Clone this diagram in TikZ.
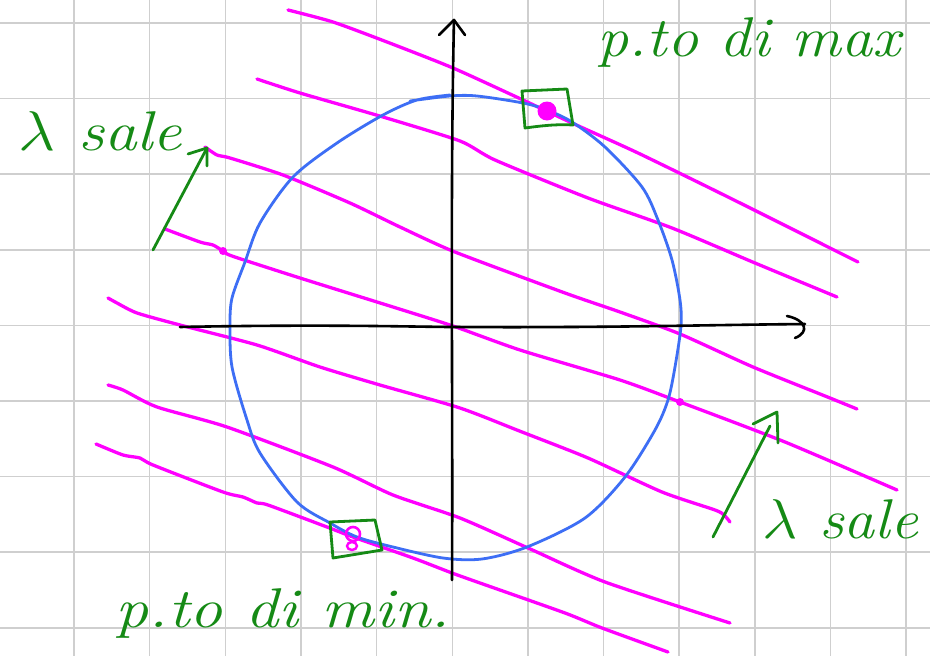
\RequirePackage{fix-cm}
\documentclass[tikz,border=0pt]{standalone}
\definecolor{gridc}{HTML}{CFCFCF}
\definecolor{pen}{HTML}{FF00FF}
\definecolor{circ}{HTML}{3D6EF5}
\definecolor{ink}{HTML}{158A15}
\tikzset{
  gridline/.style={draw=gridc, line width=1.5pt},
  magline/.style={draw=pen, line width=3.3pt, line cap=round, line join=round},
  circline/.style={draw=circ, line width=2.8pt, line cap=round, line join=round},
  axisline/.style={draw=black, line width=2.6pt, line cap=round, line join=round},
  greenline/.style={draw=ink, line width=2.8pt, line cap=round, line join=round},
  lbl/.style={text=ink, inner sep=0pt, font=\fontsize{56}{56}\selectfont\itshape},
}
\begin{document}
\begin{tikzpicture}[x=1pt,y=-1pt]
\useasboundingbox (0,0) rectangle (930,656);
\fill[white] (0,0) rectangle (930,656);
% grid
\foreach \i in {0,...,11} \draw[gridline] ({74+75.65*\i},0) -- ({74+75.65*\i},656);
\foreach \j in {0,...,8} \draw[gridline] (0,{23+75.6*\j}) -- (930,{23+75.6*\j});
% level lines
\draw[magline] plot[smooth, tension=0.4] coordinates {(288,10) (333,22) (387,42) (453,68) (523,100) (572,123) (638,153) (728,197) (858,262)};
\draw[magline] plot[smooth, tension=0.4] coordinates {(257,79) (300,93) (383,117) (460,141) (495,160) (588,198) (672,228) (755,263) (837,297)};
\draw[magline] plot[smooth, tension=0.4] coordinates {(205,147) (217,155) (230,158) (283,175) (350,203) (400,227) (455,252) (565,293) (620,312) (680,334) (753,367) (830,398) (857,409)};
\draw[magline] plot[smooth, tension=0.4] coordinates {(165,229) (200,242) (213,245) (223,251) (232,256) (300,278) (393,307) (453,326) (520,350) (620,380) (680,402) (785,442) (897,490)};
\draw[magline] plot[smooth, tension=0.4] coordinates {(108,298) (117,303) (137,313) (180,325) (257,345) (320,367) (380,385) (460,408) (522,432) (588,458) (662,492) (715,510) (724,515) (730,522)};
\draw[magline] plot[smooth, tension=0.4] coordinates {(108,385) (123,390) (157,407) (227,427) (333,467) (393,495) (460,518) (528,548) (605,582) (730,623)};
\draw[magline] plot[smooth, tension=0.4] coordinates {(96,444) (123,455) (140,458) (153,465) (223,492) (243,497) (257,503) (268,505) (327,527) (353,537) (413,558) (452,573) (480,583) (565,613) (602,628) (668,652)};
% circle constraint
\draw[circline] plot[smooth, tension=0.5] coordinates {(410,101) (450,96) (477,96) (523,103) (547,110) (572,122) (605,147) (642,187) (658,220) (672,260) (680,300) (681,326) (675,367) (668,400) (655,430) (625,477) (585,518) (527,547) (482,559) (443,558) (393,547) (357,537) (330,523) (297,502) (260,453) (247,420) (232,367) (230,326) (232,298) (245,262) (260,223) (293,177) (337,143) (383,115) (417,100) (450,95)};
% axes
\coordinate (xs) at (180,327);
\coordinate (xe) at (805,324);
\coordinate (ys) at (452,580);
\coordinate (ye) at (454,20);
\draw[axisline] (xs) .. controls (330,324) and (420,327) .. (453,327) .. controls (600,328) and (700,325) .. (xe);
\draw[axisline] (787,316) .. controls (806,320) and (810,332) .. (795,338);
\draw[axisline] (ys) .. controls (453,400) and (450,200) .. (ye);
\draw[axisline] (439,35) -- (ye) -- (465,35);
% points
\fill[pen] (547,111) circle (9.5);
\draw[pen, line width=2.6pt] (353,534) circle (7);
\draw[pen, line width=2.4pt] (352,546) ellipse (5 and 4);
\fill[pen] (223,251) circle (4);
\fill[pen] (680,402) circle (4);
% green boxes
\coordinate (maxa) at (522,91);
\coordinate (maxb) at (567,89);
\coordinate (maxc) at (573,125);
\coordinate (maxd) at (525,128);
\draw[greenline] (maxa) -- (maxb) -- (maxc) .. controls (555,124) and (540,126) .. (maxd) -- cycle;
\coordinate (mina) at (330,522);
\coordinate (minb) at (375,520);
\coordinate (minc) at (382,550);
\coordinate (mind) at (333,558);
\draw[greenline] (mina) -- (minb) -- (minc) -- (mind) -- cycle;
% green arrows
\coordinate (a1t) at (153,250);
\coordinate (a1h) at (207,148);
\draw[greenline] (a1t) -- (a1h);
\draw[greenline] (188,154) -- (a1h) -- (207,166);
\coordinate (a2t) at (713,537);
\coordinate (a2h) at (770,426);
\draw[greenline] (a2t) -- (a2h);
\draw[greenline] (753,424) -- (777,412) -- (778,443);
% labels
\node[lbl, anchor=base west] (sale1) at (18,150) {\resizebox{164pt}{\height}{$\lambda$ sale}};
\node[lbl, anchor=base west] (ptmax) at (597,56) {\resizebox{303pt}{\height}{p.to di max}};
\node[lbl, anchor=base west] (sale2) at (762,538) {\resizebox{156pt}{\height}{$\lambda$ sale}};
\node[lbl, anchor=base west] (ptmin) at (115,627) {\resizebox{335pt}{\height}{p.to di min.}};
\end{tikzpicture}
\end{document}
